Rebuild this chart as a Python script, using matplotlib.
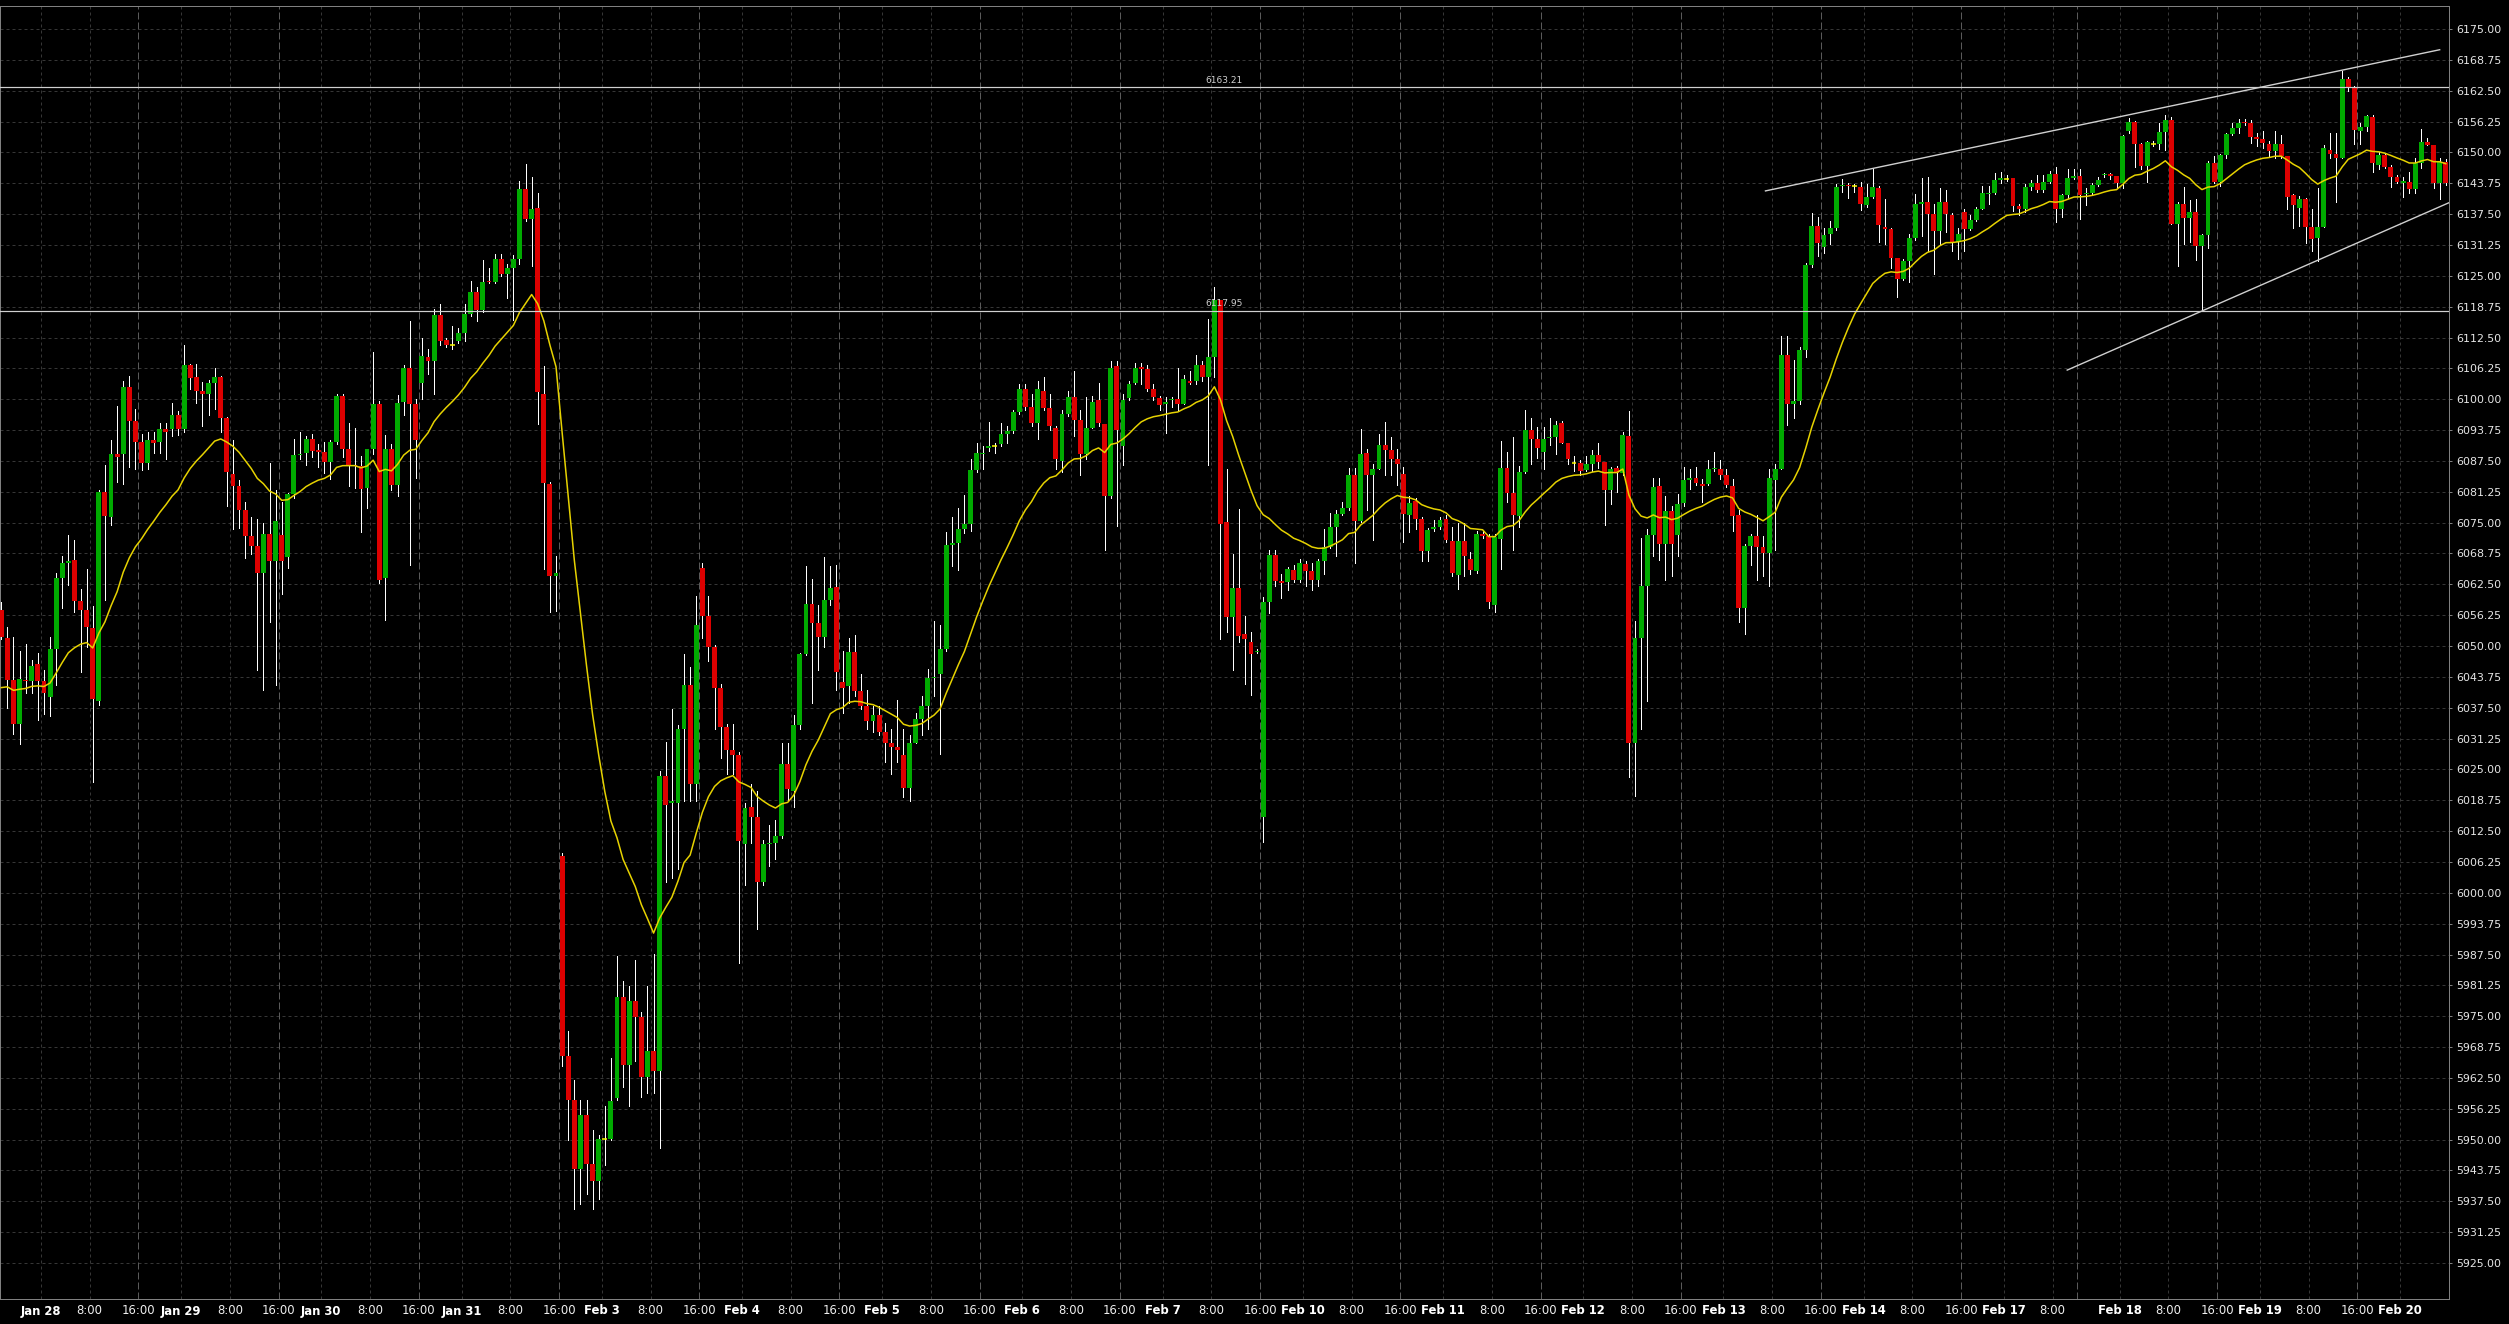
import numpy as np
import matplotlib.pyplot as plt

plt.rcParams['lines.scale_dashes'] = False

# hourly OHLC, candle index 0 = Jan 27 17:00 session open
opens = [
    6057.3, 6051.6, 6043.2, 6034.2, 6043.2, 6042.9, 6046.3, 6042.9, 6039.6, 6049.3,
    6063.8, 6066.9, 6067.5, 6059.2, 6057.3, 6053.7, 6038.8, 6081.2, 6076.2, 6089.0,
    6088.8, 6102.4, 6095.5, 6091.3, 6087.1, 6091.7, 6091.3, 6094.0, 6094.0, 6096.7,
    6094.0, 6107.0, 6104.5, 6101.6, 6101.0, 6103.3, 6104.5, 6096.1, 6084.8, 6082.5,
    6077.6, 6072.2, 6070.3, 6064.8, 6072.6, 6067.3, 6072.4, 6068.0, 6080.8, 6088.6,
    6089.2, 6091.9, 6089.8, 6089.4, 6087.3, 6091.3, 6100.7, 6089.9, 6086.7, 6086.5,
    6082.0, 6090.0, 6099.0, 6063.8, 6090.0, 6082.6, 6099.4, 6106.4, 6099.1, 6103.2,
    6108.5, 6107.8, 6117.1, 6111.9, 6110.9, 6111.7, 6113.5, 6117.2, 6121.7, 6118.0,
    6124.0, 6123.8, 6128.5, 6125.3, 6126.6, 6128.5, 6142.5, 6136.6, 6138.7, 6101.0,
    6082.9, 6064.2, 6007.5, 5967.0, 5958.0, 5944.0, 5955.0, 5945.0, 5941.6, 5950.2,
    5950.2, 5958.5, 5978.9, 5965.1, 5978.1, 5974.9, 5962.7, 5968.0, 5964.0, 6023.7,
    6018.1, 6018.1, 6033.2, 6042.2, 6022.0, 6065.9, 6056.0, 6049.7, 6041.4, 6033.5,
    6029.0, 6027.9, 6009.8, 6017.4, 6015.4, 6002.2, 6009.8, 6010.1, 6011.5, 6026.0,
    6020.7, 6033.9, 6048.4, 6058.6, 6054.6, 6051.9, 6059.3, 6061.9, 6042.7, 6041.8,
    6048.8, 6040.9, 6037.8, 6034.8, 6036.1, 6032.5, 6030.3, 6029.5, 6027.9, 6021.3,
    6030.3, 6035.2, 6037.8, 6043.5, 6044.4, 6049.3, 6070.4, 6070.8, 6073.7, 6074.7,
    6085.6, 6088.8, 6090.1, 6090.5, 6090.9, 6092.9, 6093.6, 6097.4, 6102.0, 6098.4,
    6095.2, 6101.7, 6098.2, 6094.1, 6087.5, 6097.1, 6100.4, 6095.8, 6088.8, 6094.1,
    6099.8, 6094.9, 6080.3, 6106.8, 6090.5, 6100.2, 6103.3, 6106.6, 6106.1, 6102.0,
    6100.2, 6099.1, 6099.8, 6100.0, 6099.1, 6103.7, 6103.7, 6107.0, 6104.4, 6108.6,
    6120.1, 6075.1, 6055.9, 6061.7, 6052.4, 6050.9, 6048.8, 6015.4, 6059.0, 6068.5,
    6063.1, 6062.9, 6065.4, 6063.4, 6066.6, 6065.1, 6063.4, 6067.2, 6070.1, 6074.2,
    6076.7, 6077.9, 6084.6, 6075.3, 6089.1, 6084.6, 6085.9, 6090.8, 6089.8, 6087.9,
    6084.8, 6076.5, 6079.4, 6075.7, 6069.3, 6073.8, 6074.2, 6075.7, 6071.3, 6064.3,
    6071.2, 6067.6, 6065.2, 6072.6, 6072.2, 6058.4, 6071.7, 6086.0, 6081.0, 6076.3,
    6085.2, 6093.8, 6092.0, 6089.4, 6092.1, 6092.4, 6095.1, 6091.2, 6087.1, 6087.1,
    6085.6, 6086.9, 6088.7, 6087.2, 6081.7, 6086.0, 6085.0, 6092.5, 6030.3, 6051.6,
    6062.1, 6072.4, 6082.4, 6070.7, 6077.4, 6072.4, 6079.0, 6083.7, 6084.0, 6082.8,
    6082.9, 6085.8, 6085.9, 6084.6, 6082.5, 6076.6, 6057.6, 6070.3, 6072.2, 6070.0,
    6068.9, 6083.7, 6085.9, 6108.9, 6099.1, 6099.7, 6110.0, 6127.2, 6135.0, 6130.9,
    6133.4, 6134.6, 6143.1, 6143.3, 6143.1, 6143.0, 6139.4, 6141.0, 6142.7, 6134.8,
    6134.4, 6128.6, 6124.4, 6128.0, 6132.7, 6139.6, 6139.9, 6137.6, 6134.0, 6139.9,
    6137.3, 6131.9, 6137.9, 6134.4, 6136.3, 6138.5, 6141.6, 6141.7, 6144.5, 6144.7,
    6144.8, 6139.1, 6138.6, 6142.9, 6143.9, 6142.4, 6144.1, 6145.7, 6138.6, 6141.4,
    6144.8, 6145.3, 6141.6, 6141.7, 6143.3, 6145.5, 6145.7, 6145.3, 6143.9, 6154.4,
    6156.2, 6151.8, 6147.2, 6151.8, 6151.8, 6154.2, 6156.5, 6135.5, 6139.6, 6136.8,
    6137.9, 6131.1, 6133.2, 6147.8, 6144.1, 6149.5, 6153.8, 6154.9, 6156.2, 6155.9,
    6153.1, 6152.8, 6151.8, 6150.3, 6151.8, 6149.3, 6141.4, 6138.7, 6140.6, 6134.8,
    6132.7, 6134.8, 6150.5, 6149.7, 6148.9, 6164.8, 6163.3, 6154.4, 6155.1, 6157.1,
    6147.4, 6149.4, 6147.1, 6145.0, 6143.9, 6144.1, 6142.5, 6147.8, 6152.2, 6151.4,
    6143.9, 6148.0,
]
highs = [
    6058.9, 6053.9, 6051.8, 6048.9, 6050.5, 6047.2, 6048.5, 6045.1, 6051.8, 6064.8,
    6068.2, 6072.4, 6071.4, 6061.5, 6065.7, 6058.1, 6081.6, 6086.7, 6091.7, 6098.6,
    6103.6, 6104.7, 6098.0, 6093.0, 6093.4, 6093.4, 6095.2, 6095.1, 6099.3, 6097.6,
    6110.9, 6107.2, 6107.2, 6103.5, 6103.9, 6106.4, 6104.7, 6096.3, 6091.7, 6083.7,
    6079.1, 6076.2, 6075.7, 6074.9, 6087.1, 6081.6, 6079.1, 6081.0, 6091.9, 6093.4,
    6092.5, 6093.0, 6090.9, 6091.3, 6091.7, 6101.1, 6101.0, 6095.1, 6094.2, 6088.5,
    6090.0, 6109.5, 6099.7, 6092.7, 6090.9, 6100.9, 6107.0, 6115.9, 6100.1, 6112.3,
    6110.2, 6118.2, 6119.3, 6112.3, 6114.8, 6114.5, 6119.3, 6124.0, 6122.8, 6128.2,
    6126.6, 6129.5, 6129.5, 6127.4, 6129.2, 6144.2, 6147.6, 6145.0, 6141.7, 6106.7,
    6083.3, 6068.2, 6008.0, 5972.0, 5962.0, 5958.0, 5958.0, 5952.0, 5951.0, 5956.8,
    5966.6, 5987.1, 5982.1, 5981.2, 5986.4, 5975.9, 5981.2, 5987.7, 6024.7, 6030.6,
    6037.2, 6033.9, 6048.4, 6045.7, 6060.2, 6066.8, 6060.2, 6050.3, 6042.4, 6034.3,
    6034.3, 6028.6, 6018.1, 6022.0, 6020.7, 6010.8, 6013.7, 6014.8, 6030.3, 6030.3,
    6036.1, 6048.6, 6066.2, 6063.5, 6058.3, 6068.1, 6066.2, 6066.4, 6049.0, 6051.6,
    6052.3, 6044.4, 6041.1, 6037.8, 6037.8, 6034.5, 6033.2, 6039.1, 6033.2, 6031.9,
    6036.5, 6039.8, 6045.3, 6055.0, 6054.3, 6073.0, 6076.1, 6078.0, 6080.6, 6087.9,
    6091.2, 6090.5, 6095.4, 6091.2, 6095.2, 6094.5, 6097.8, 6103.1, 6103.1, 6101.1,
    6103.7, 6104.4, 6101.1, 6094.5, 6097.8, 6101.7, 6105.7, 6097.8, 6100.4, 6100.7,
    6103.3, 6094.9, 6107.7, 6107.7, 6101.1, 6103.7, 6107.3, 6107.3, 6107.0, 6103.1,
    6100.7, 6100.4, 6100.4, 6106.4, 6105.0, 6105.7, 6109.0, 6107.7, 6116.2, 6122.8,
    6120.1, 6085.8, 6068.7, 6077.8, 6056.1, 6052.8, 6049.3, 6060.0, 6069.5, 6069.5,
    6064.5, 6066.0, 6066.4, 6067.6, 6067.2, 6066.8, 6067.6, 6073.7, 6076.9, 6077.6,
    6079.2, 6086.1, 6086.1, 6093.9, 6090.0, 6086.9, 6093.0, 6095.3, 6092.4, 6090.0,
    6086.2, 6080.4, 6080.0, 6076.1, 6073.9, 6075.5, 6076.1, 6076.5, 6074.2, 6074.9,
    6074.9, 6069.1, 6073.4, 6073.4, 6072.6, 6072.6, 6091.6, 6089.3, 6092.4, 6086.5,
    6097.9, 6096.1, 6094.3, 6094.3, 6096.2, 6095.5, 6095.5, 6091.2, 6088.5, 6087.7,
    6088.5, 6089.7, 6091.2, 6087.2, 6086.2, 6086.5, 6093.3, 6097.6, 6055.1, 6071.8,
    6073.8, 6084.0, 6084.0, 6080.3, 6078.4, 6080.7, 6086.2, 6085.8, 6086.2, 6083.8,
    6087.7, 6089.3, 6087.7, 6085.8, 6083.8, 6077.6, 6070.7, 6072.6, 6076.5, 6072.2,
    6085.8, 6086.9, 6112.9, 6112.9, 6107.9, 6110.6, 6127.5, 6137.7, 6137.0, 6134.6,
    6136.2, 6143.5, 6144.7, 6143.9, 6143.5, 6144.1, 6143.5, 6146.6, 6143.1, 6140.6,
    6134.6, 6128.6, 6128.4, 6133.4, 6141.6, 6144.8, 6145.1, 6139.6, 6142.7, 6142.4,
    6137.7, 6134.6, 6138.5, 6137.3, 6138.9, 6143.1, 6143.1, 6145.8, 6146.1, 6145.5,
    6144.8, 6139.6, 6143.5, 6144.5, 6145.5, 6145.5, 6146.2, 6147.0, 6141.6, 6146.6,
    6146.6, 6146.6, 6142.7, 6143.9, 6145.1, 6145.8, 6145.8, 6145.3, 6153.6, 6156.9,
    6156.3, 6152.0, 6152.4, 6152.4, 6155.9, 6157.5, 6157.1, 6140.0, 6143.0, 6140.4,
    6140.6, 6133.4, 6148.2, 6149.3, 6149.7, 6154.0, 6155.9, 6156.7, 6156.7, 6156.5,
    6154.0, 6154.4, 6152.4, 6154.4, 6153.6, 6149.3, 6141.6, 6141.2, 6140.8, 6138.6,
    6142.7, 6151.5, 6154.0, 6154.0, 6166.4, 6165.2, 6163.5, 6155.9, 6157.5, 6157.5,
    6150.0, 6149.8, 6147.4, 6145.5, 6145.1, 6146.1, 6148.8, 6154.7, 6152.9, 6151.6,
    6148.8, 6148.6,
]
lows = [
    6051.4, 6037.5, 6032.1, 6030.2, 6040.5, 6040.5, 6035.0, 6036.3, 6035.9, 6042.0,
    6057.7, 6062.3, 6056.9, 6044.7, 6049.7, 6022.4, 6038.0, 6059.4, 6074.5, 6083.3,
    6082.9, 6086.2, 6085.8, 6085.6, 6085.8, 6089.2, 6089.2, 6087.9, 6092.5, 6092.7,
    6093.4, 6102.0, 6099.3, 6094.6, 6096.7, 6098.0, 6093.4, 6078.3, 6073.7, 6073.9,
    6067.8, 6068.6, 6045.1, 6041.1, 6054.8, 6042.2, 6060.6, 6065.8, 6080.0, 6087.9,
    6086.7, 6088.3, 6086.2, 6085.0, 6083.9, 6090.9, 6088.3, 6082.5, 6082.0, 6073.1,
    6077.9, 6088.8, 6062.7, 6055.3, 6081.6, 6080.4, 6096.7, 6066.5, 6084.1, 6100.1,
    6105.1, 6101.0, 6111.0, 6110.6, 6110.2, 6111.4, 6111.7, 6116.9, 6115.9, 6117.6,
    6123.6, 6123.6, 6124.9, 6120.5, 6116.1, 6127.4, 6136.2, 6127.0, 6094.9, 6065.7,
    6056.9, 6057.1, 5965.0, 5950.0, 5936.0, 5937.0, 5939.0, 5936.0, 5938.0, 5944.9,
    5950.0, 5958.1, 5960.7, 5956.8, 5966.0, 5958.7, 5959.4, 5959.4, 5948.2, 6002.2,
    6002.9, 6004.9, 6018.7, 6018.7, 6018.7, 6051.6, 6047.0, 6033.2, 6027.3, 6024.0,
    6024.0, 5985.8, 6001.6, 6010.1, 5992.6, 6001.6, 6005.5, 6006.9, 6011.2, 6018.7,
    6017.4, 6033.2, 6048.2, 6038.5, 6045.1, 6049.7, 6058.3, 6041.1, 6036.5, 6038.5,
    6039.8, 6037.2, 6033.2, 6032.5, 6031.9, 6026.6, 6024.0, 6026.6, 6019.4, 6018.7,
    6030.3, 6031.9, 6033.2, 6039.8, 6028.2, 6049.0, 6066.2, 6065.5, 6072.8, 6073.4,
    6085.3, 6085.9, 6089.6, 6089.2, 6090.5, 6091.2, 6093.2, 6097.1, 6097.8, 6094.5,
    6091.9, 6097.8, 6093.8, 6085.9, 6085.3, 6096.5, 6092.5, 6084.6, 6087.9, 6094.1,
    6094.5, 6069.5, 6080.0, 6074.3, 6086.6, 6099.8, 6103.1, 6103.1, 6101.7, 6099.8,
    6097.8, 6093.2, 6098.4, 6097.8, 6099.1, 6103.1, 6103.1, 6103.7, 6086.6, 6104.4,
    6051.4, 6052.8, 6045.2, 6050.9, 6042.4, 6040.0, 6048.5, 6010.2, 6056.7, 6062.1,
    6059.8, 6061.4, 6062.9, 6062.9, 6062.1, 6061.4, 6062.1, 6064.5, 6069.9, 6068.3,
    6076.5, 6077.6, 6066.8, 6075.1, 6077.6, 6071.4, 6085.8, 6084.6, 6084.6, 6082.7,
    6071.0, 6073.0, 6073.8, 6067.2, 6067.2, 6073.4, 6073.8, 6071.0, 6064.1, 6061.5,
    6064.1, 6064.5, 6064.8, 6071.8, 6057.6, 6056.9, 6065.6, 6079.2, 6069.5, 6074.1,
    6085.0, 6086.9, 6088.1, 6085.8, 6090.8, 6088.9, 6091.2, 6086.9, 6085.4, 6084.6,
    6085.4, 6085.4, 6086.1, 6074.5, 6078.8, 6081.1, 6084.6, 6023.4, 6019.6, 6033.1,
    6038.9, 6068.3, 6067.5, 6063.3, 6064.1, 6068.3, 6078.4, 6081.9, 6082.7, 6079.2,
    6082.7, 6085.4, 6083.8, 6082.3, 6073.4, 6054.8, 6052.4, 6066.4, 6063.3, 6064.1,
    6062.1, 6069.5, 6085.8, 6094.8, 6096.2, 6099.0, 6108.5, 6126.8, 6129.0, 6129.6,
    6131.5, 6134.2, 6142.0, 6140.8, 6142.0, 6138.3, 6138.9, 6140.8, 6131.9, 6131.5,
    6126.5, 6120.8, 6124.1, 6123.7, 6132.3, 6133.1, 6130.0, 6125.3, 6131.5, 6133.8,
    6130.0, 6128.4, 6130.0, 6134.2, 6136.2, 6138.5, 6139.6, 6141.6, 6143.9, 6144.3,
    6138.1, 6137.3, 6137.9, 6142.4, 6142.0, 6142.0, 6143.9, 6135.8, 6136.9, 6140.8,
    6144.7, 6136.5, 6139.3, 6141.6, 6143.1, 6145.1, 6144.7, 6142.7, 6142.7, 6154.0,
    6147.0, 6146.6, 6144.1, 6151.3, 6150.7, 6150.5, 6135.4, 6127.0, 6131.5, 6131.9,
    6128.2, 6117.9, 6130.7, 6143.9, 6143.1, 6148.9, 6153.6, 6154.0, 6155.5, 6152.0,
    6151.3, 6150.9, 6149.3, 6148.9, 6148.9, 6138.6, 6134.6, 6135.0, 6131.7, 6130.0,
    6128.0, 6134.8, 6148.9, 6139.9, 6148.9, 6162.5, 6151.8, 6151.8, 6154.4, 6146.1,
    6146.6, 6146.8, 6142.9, 6143.8, 6140.9, 6141.8, 6141.8, 6146.8, 6151.4, 6142.7,
    6140.6, 6143.4,
]
closes = [
    6051.8, 6043.2, 6034.2, 6043.4, 6042.9, 6045.9, 6042.9, 6040.5, 6049.3, 6063.8,
    6066.9, 6067.3, 6059.2, 6057.3, 6053.9, 6039.2, 6081.2, 6076.4, 6089.0, 6088.3,
    6102.4, 6095.5, 6091.3, 6087.1, 6091.7, 6091.1, 6094.0, 6093.4, 6096.7, 6094.0,
    6107.0, 6104.3, 6101.6, 6101.0, 6103.3, 6104.5, 6096.1, 6085.2, 6082.5, 6077.6,
    6072.2, 6070.3, 6064.8, 6072.6, 6067.3, 6075.3, 6067.3, 6080.8, 6088.6, 6088.8,
    6091.9, 6089.6, 6089.4, 6087.3, 6091.3, 6100.7, 6089.9, 6086.7, 6086.5, 6081.8,
    6089.9, 6099.0, 6063.4, 6090.0, 6082.6, 6099.3, 6106.4, 6099.1, 6091.7, 6108.7,
    6107.8, 6117.1, 6111.7, 6111.0, 6110.9, 6113.5, 6117.2, 6121.7, 6118.0, 6123.8,
    6123.8, 6128.5, 6125.3, 6126.6, 6128.5, 6142.5, 6136.6, 6138.6, 6101.4, 6083.1,
    6064.2, 6064.8, 5967.0, 5958.0, 5944.0, 5955.0, 5945.0, 5941.6, 5950.2, 5950.2,
    5957.8, 5978.9, 5965.1, 5978.1, 5974.9, 5962.7, 5968.0, 5964.0, 6023.7, 6017.8,
    6018.5, 6033.2, 6042.2, 6022.0, 6054.3, 6056.0, 6049.7, 6041.4, 6033.5, 6029.0,
    6027.9, 6010.5, 6017.1, 6015.4, 6002.2, 6009.8, 6010.1, 6011.5, 6026.0, 6021.1,
    6033.9, 6048.4, 6058.6, 6054.6, 6051.9, 6059.3, 6061.8, 6044.8, 6041.4, 6048.8,
    6040.9, 6037.8, 6034.8, 6036.1, 6032.5, 6030.3, 6029.5, 6029.0, 6021.3, 6030.3,
    6035.2, 6037.8, 6043.5, 6043.8, 6049.3, 6070.4, 6070.8, 6073.7, 6074.7, 6085.6,
    6089.2, 6089.2, 6090.5, 6090.5, 6092.9, 6093.6, 6097.4, 6102.0, 6098.4, 6095.2,
    6102.0, 6098.2, 6094.5, 6087.9, 6097.1, 6100.4, 6095.8, 6088.8, 6094.1, 6099.4,
    6095.2, 6080.3, 6106.4, 6093.8, 6099.8, 6103.1, 6106.4, 6106.1, 6102.0, 6100.4,
    6098.8, 6099.5, 6100.0, 6099.1, 6104.1, 6103.3, 6107.0, 6104.4, 6108.6, 6120.1,
    6074.7, 6055.9, 6061.7, 6052.0, 6051.4, 6048.3, 6048.9, 6059.0, 6068.5, 6063.1,
    6062.7, 6065.6, 6063.4, 6066.8, 6065.1, 6063.4, 6067.2, 6070.1, 6074.2, 6076.7,
    6077.9, 6084.6, 6075.3, 6088.9, 6084.6, 6085.9, 6090.8, 6089.8, 6087.9, 6086.9,
    6076.7, 6079.0, 6075.7, 6069.3, 6073.6, 6074.2, 6075.5, 6071.4, 6064.8, 6071.2,
    6068.2, 6065.4, 6072.6, 6072.2, 6058.9, 6072.1, 6086.0, 6081.0, 6076.5, 6085.2,
    6093.8, 6092.0, 6090.2, 6092.0, 6092.4, 6094.8, 6091.2, 6087.9, 6087.1, 6085.4,
    6086.8, 6088.7, 6087.3, 6081.7, 6085.8, 6085.0, 6092.8, 6030.3, 6051.6, 6062.1,
    6072.4, 6082.3, 6070.7, 6077.3, 6070.7, 6078.8, 6083.7, 6084.0, 6083.0, 6082.5,
    6085.8, 6085.9, 6084.6, 6082.7, 6076.3, 6057.6, 6070.3, 6072.2, 6070.0, 6068.9,
    6084.0, 6085.9, 6108.9, 6099.1, 6099.7, 6110.0, 6127.2, 6135.0, 6131.7, 6133.2,
    6134.6, 6143.0, 6143.3, 6143.1, 6143.1, 6139.6, 6141.0, 6143.0, 6135.2, 6134.4,
    6128.6, 6124.4, 6128.0, 6132.7, 6139.6, 6139.9, 6137.6, 6134.0, 6139.9, 6137.6,
    6131.9, 6133.4, 6134.4, 6136.3, 6138.5, 6141.7, 6141.7, 6144.5, 6144.7, 6144.7,
    6139.1, 6138.6, 6142.9, 6143.9, 6142.4, 6144.1, 6145.7, 6138.6, 6141.4, 6144.8,
    6145.3, 6141.4, 6141.8, 6143.3, 6144.5, 6145.7, 6145.3, 6143.9, 6153.4, 6156.2,
    6151.8, 6147.2, 6152.2, 6151.8, 6154.2, 6156.5, 6135.5, 6139.6, 6136.8, 6137.9,
    6131.1, 6133.2, 6147.8, 6144.1, 6149.5, 6153.8, 6154.9, 6155.9, 6155.9, 6153.1,
    6152.8, 6152.0, 6150.3, 6151.8, 6149.3, 6141.0, 6139.4, 6140.6, 6134.8, 6132.5,
    6134.8, 6150.9, 6149.7, 6148.9, 6164.8, 6163.3, 6154.6, 6155.1, 6157.3, 6147.8,
    6149.4, 6147.1, 6145.0, 6144.1, 6144.1, 6142.5, 6147.8, 6152.2, 6151.4, 6143.9,
    6148.0, 6143.9,
]

# x-axis labels (candle index where each label sits)
day_ticks = [7, 30, 53, 76, 99, 122, 145, 168, 191, 214, 237, 260, 283, 306, 329, 348, 371, 394]
day_labels = ['Jan 28', 'Jan 29', 'Jan 30', 'Jan 31', 'Feb 3', 'Feb 4', 'Feb 5', 'Feb 6', 'Feb 7',
              'Feb 10', 'Feb 11', 'Feb 12', 'Feb 13', 'Feb 14', 'Feb 17', 'Feb 18', 'Feb 19', 'Feb 20']
morning_ticks = [15, 38, 61, 84, 107, 130, 153, 176, 199, 222, 245, 268, 291, 314, 337, 356, 379]
session_ticks = [23, 46, 69, 92, 115, 138, 161, 184, 207, 230, 253, 276, 299, 322, 364, 387]
holiday_break = [341]

levels = [6163.21, 6117.95]
upper_x, upper_y = [289.4, 400.0], [6142.2, 6170.8]
lower_x, lower_y = [338.9, 401.6], [6105.9, 6139.85]
ema_seed = 6040.5
ema_period = 20

o = np.array(opens)
h = np.array(highs)
l = np.array(lows)
c = np.array(closes)
h = np.maximum(h, np.maximum(o, c))
l = np.minimum(l, np.minimum(o, c))
x = np.arange(len(c))

# exponential moving average of the closes
alpha = 2.0 / (ema_period + 1)
ema = []
prev = ema_seed
for v in c:
    prev = prev + alpha * (v - prev)
    ema.append(prev)

PX = 0.72  # one pixel in points at 100 dpi
W, H = 2509, 1324
fig = plt.figure(figsize=(W / 100, H / 100), dpi=100, facecolor='black')
ax = fig.add_axes([0, 25 / H, 2449 / W, 1293 / H], facecolor='black')
xmin, xmax = -0.213, 401.53
ymin, ymax = 5917.71, 6179.66
ax.set_xlim(xmin, xmax)
ax.set_ylim(ymin, ymax)

# grid
yticks = np.arange(5925, 6175.01, 6.25)
ax.hlines(yticks, xmin, xmax, colors='#363636', linewidth=PX,
          linestyles=(0, (3 * PX, 3 * PX)), zorder=0)
short_lines = np.array(day_ticks + morning_ticks) - 0.5
ax.vlines(short_lines, ymin, ymax, colors='#363636', linewidth=PX,
          linestyles=(0, (3 * PX, 3 * PX)), zorder=0)
long_lines = np.array(session_ticks + holiday_break) - 0.5
ax.vlines(long_lines, ymin, ymax, colors='#5a5a5a', linewidth=PX,
          linestyles=(0, (7 * PX, 3 * PX)), zorder=0)

# candles
ax.vlines(x, l, h, colors='white', linewidth=PX, zorder=2, antialiased=False)
up = c > o
dn = c < o
dj = c == o
lo = np.minimum(o, c)
ht = np.maximum(np.abs(c - o), 0.22)
ax.bar(x[up], ht[up], bottom=lo[up], width=0.8, color='#00aa00', linewidth=0,
       zorder=3, antialiased=False)
ax.bar(x[dn], ht[dn], bottom=lo[dn], width=0.8, color='#dd0000', linewidth=0,
       zorder=3, antialiased=False)
ax.hlines(c[dj], x[dj] - 0.4, x[dj] + 0.4, colors='#ffff00', linewidth=1.5 * PX, zorder=3)

# moving average
ax.plot(x, ema, color='#e6d200', linewidth=1.1, zorder=4)

# horizontal levels and channel lines
for lv in levels:
    ax.axhline(lv, color='#d0d0d0', linewidth=1.2 * PX, zorder=5)
    ax.text(200.6, lv + 0.45, f'{lv:.2f}', color='#d0d0d0', fontsize=6.5,
            ha='center', va='bottom', zorder=6)
ax.plot(upper_x, upper_y, color='#d0d0d0', linewidth=1.0, zorder=5)
ax.plot(lower_x, lower_y, color='#d0d0d0', linewidth=1.0, zorder=5)

# frame and axes
for sp in ax.spines.values():
    sp.set_color('#808080')
    sp.set_linewidth(PX)
ax.yaxis.tick_right()
ax.set_yticks(yticks)
ax.set_yticklabels([f'{v:.2f}' for v in yticks])
ax.tick_params(axis='y', colors='#808080', labelcolor='#e6e6e6', length=3 * PX,
               width=PX, pad=4 * PX, labelsize=7.9)
ax.set_xticks([])

tr = ax.get_xaxis_transform()
ylab = -12 / 1293
for k, s in zip(day_ticks, day_labels):
    ax.text(k - 0.5, ylab, s, transform=tr, color='white', fontsize=8.4,
            fontweight='bold', ha='center', va='center')
for k in morning_ticks:
    ax.text(k - 0.5, ylab, '8:00', transform=tr, color='#f0f0f0', fontsize=8.4,
            ha='center', va='center')
for k in session_ticks:
    ax.text(k - 0.5, ylab, '16:00', transform=tr, color='#f0f0f0', fontsize=8.4,
            ha='center', va='center')

fig.savefig('out.png', dpi=100, facecolor='black')
